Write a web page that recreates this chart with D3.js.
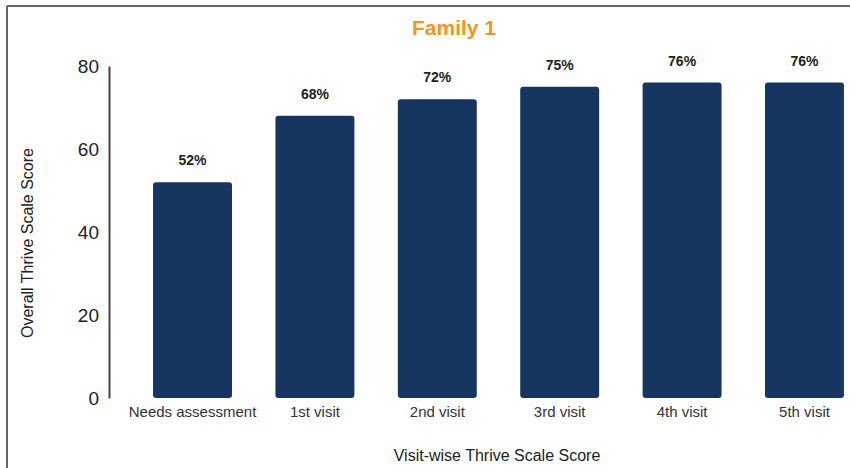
<!DOCTYPE html>
<html>
<head>
<meta charset="utf-8">
<script src="https://cdn.jsdelivr.net/npm/d3@7"></script>
<style>
  body { margin: 0; background: #fff; }
  svg { display: block; font-family: "Liberation Sans", Arial, sans-serif; }
</style>
</head>
<body>
<div id="my_dataviz"></div>
<script>
// data
var visits = ["Needs assessment", "1st visit", "2nd visit", "3rd visit", "4th visit", "5th visit"];
var scores = [52, 68, 72, 75, 76, 76];
var yTicks = [0, 20, 40, 60, 80];

var W = 850, H = 468;

var svg = d3.select("#my_dataviz")
    .append("svg")
    .attr("width", W)
    .attr("height", H);

// frame (top + left only, as in the source)
svg.append("line").attr("x1", 7).attr("x2", W).attr("y1", 6).attr("y2", 6)
    .attr("stroke", "#666").attr("stroke-width", 2);
svg.append("line").attr("x1", 7).attr("x2", 7).attr("y1", 6).attr("y2", H)
    .attr("stroke", "#666").attr("stroke-width", 2);

// scales
var x = d3.scaleBand()
    .domain(visits)
    .range([109, 888])
    .paddingInner(0.355)
    .paddingOuter(0.36);

var y = d3.scaleLinear()
    .domain([0, 80])
    .range([398, 66]);

// Y axis
var yAxis = svg.append("g")
    .attr("transform", "translate(109,0)")
    .call(d3.axisLeft(y).tickValues(yTicks).tickSize(0).tickPadding(10));
yAxis.select(".domain").attr("stroke", "#444").attr("stroke-width", 2);
yAxis.selectAll("text")
    .attr("font-size", 19)
    .attr("fill", "#222")
    .style("font-family", "Liberation Sans, Arial, sans-serif");

// X axis labels
var xAxis = svg.append("g")
    .attr("transform", "translate(0,398)")
    .call(d3.axisBottom(x).tickSize(0).tickPadding(8));
xAxis.select(".domain").remove();
xAxis.selectAll("text")
    .attr("font-size", 15)
    .attr("fill", "#333")
    .style("font-family", "Liberation Sans, Arial, sans-serif");

// bars
svg.selectAll("rect.bar")
    .data(scores)
    .enter()
    .append("rect")
    .attr("class", "bar")
    .attr("x", function(d, i) { return x(visits[i]); })
    .attr("y", function(d) { return y(d); })
    .attr("width", x.bandwidth())
    .attr("height", function(d) { return y(0) - y(d); })
    .attr("rx", 3)
    .attr("fill", "#17365f");

// value labels
svg.selectAll("text.val")
    .data(scores)
    .enter()
    .append("text")
    .attr("class", "val")
    .attr("x", function(d, i) { return x(visits[i]) + x.bandwidth() / 2; })
    .attr("y", function(d) { return y(d) - 17; })
    .attr("text-anchor", "middle")
    .attr("font-size", 14)
    .attr("font-weight", "bold")
    .attr("fill", "#222")
    .text(function(d) { return d + "%"; });

// title
svg.append("text")
    .attr("x", 454)
    .attr("y", 35)
    .attr("text-anchor", "middle")
    .attr("font-size", 21)
    .attr("font-weight", "bold")
    .attr("fill", "#f7941d")
    .text("Family 1");

// axis titles
svg.append("text")
    .attr("x", 497)
    .attr("y", 461)
    .attr("text-anchor", "middle")
    .attr("font-size", 16)
    .attr("fill", "#222")
    .text("Visit-wise Thrive Scale Score");

svg.append("text")
    .attr("transform", "translate(33,243)rotate(-90)")
    .attr("text-anchor", "middle")
    .attr("font-size", 16)
    .attr("fill", "#222")
    .text("Overall Thrive Scale Score");
</script>
</body>
</html>
